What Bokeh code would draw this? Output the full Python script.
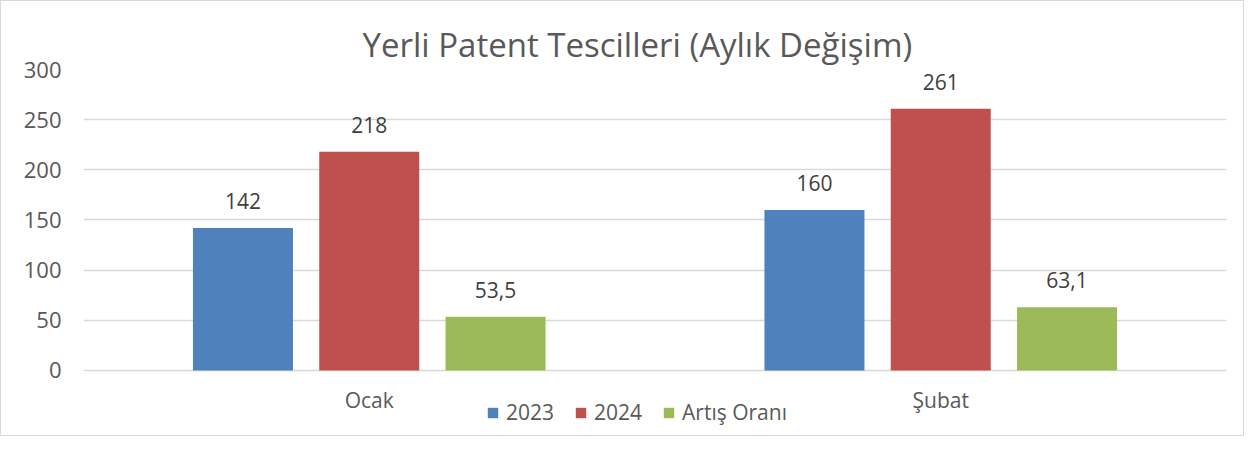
from bokeh.plotting import figure
from bokeh.models import FactorRange, Range1d, FixedTicker, ColumnDataSource, Legend, LegendItem
from bokeh.transform import dodge
from bokeh.core.properties import value
from bokeh.embed import file_html
from bokeh.resources import INLINE

months = ["Ocak", "Şubat"]
series_names = ["2023", "2024", "Artış Oranı"]
values_2023 = [142, 160]
values_2024 = [218, 261]
values_rate = [53.5, 63.1]
y_ticks = [0, 50, 100, 150, 200, 250, 300]
colors = ["#4F81BD", "#C0504D", "#9BBB59"]

FONT = "Open Sans"
TXT = "#595959"


def fmt(v):
    if float(v).is_integer():
        return str(int(v))
    return str(v).replace(".", ",")


# frame extends below the zero line so the category labels and legend sit inside it
p = figure(
    width=1244, height=436,
    x_range=FactorRange(*months), y_range=Range1d(-65.8, 300),
    output_backend="svg", toolbar_location=None,
    min_border_left=82, min_border_right=19, min_border_top=68, min_border_bottom=1,
)
p.styles = {"border": "1px solid #D9D9D9", "box-sizing": "border-box"}
p.outline_line_color = None
p.background_fill_color = "white"
p.border_fill_color = "white"

p.title.text = "Yerli Patent Tescilleri (Aylık Değişim)"
p.title.align = "left"
p.title.offset = 279
p.title.text_font = FONT
p.title.text_font_size = "33px"
p.title.text_font_style = "normal"
p.title.text_color = TXT
p.title.standoff = 6

src = ColumnDataSource(dict(
    month=months,
    s2023=values_2023, s2024=values_2024, srate=values_rate,
    l2023=[fmt(v) for v in values_2023],
    l2024=[fmt(v) for v in values_2024],
    lrate=[fmt(v) for v in values_rate],
))

offsets = [-0.221, 0.0, 0.221]
cols = ["s2023", "s2024", "srate"]
lcols = ["l2023", "l2024", "lrate"]
items = []
for off, col, lcol, c, name in zip(offsets, cols, lcols, colors, series_names):
    r = p.vbar(x=dodge("month", off, range=p.x_range), top=col, width=0.175,
               source=src, fill_color=c, line_color=None)
    p.text(x=dodge("month", off, range=p.x_range), y=col, text=lcol, source=src,
           text_font=value(FONT), text_font_size="21px", text_color="#404040",
           text_align="center", text_baseline="alphabetic", y_offset=-27)
    items.append(LegendItem(label=name, renderers=[r]))

legend = Legend(items=items, orientation="horizontal", location=(403, 10),
                glyph_width=13, glyph_height=13, label_standoff=7, spacing=20,
                padding=0, margin=0, border_line_color=None, background_fill_alpha=0,
                label_text_font=FONT, label_text_font_size="21px", label_text_color=TXT,
                label_height=20)
p.add_layout(legend, "center")

p.yaxis.ticker = FixedTicker(ticks=y_ticks)
p.yaxis.axis_line_color = None
p.yaxis.major_tick_line_color = None
p.yaxis.minor_tick_line_color = None
p.yaxis.major_label_text_font = FONT
p.yaxis.major_label_text_font_size = "22px"
p.yaxis.major_label_text_color = TXT
p.yaxis.major_label_standoff = 16

p.xaxis.fixed_location = 0
p.xaxis.axis_line_color = None
p.xaxis.major_tick_line_color = None
p.xaxis.minor_tick_line_color = None
p.xaxis.major_label_text_font = FONT
p.xaxis.major_label_text_font_size = "21px"
p.xaxis.major_label_text_color = TXT
p.xaxis.major_label_standoff = 10

p.xgrid.grid_line_color = None
p.ygrid.grid_line_color = "#D9D9D9"
p.ygrid.grid_line_width = 1.5

open("out.html", "w").write(file_html(p, INLINE))
